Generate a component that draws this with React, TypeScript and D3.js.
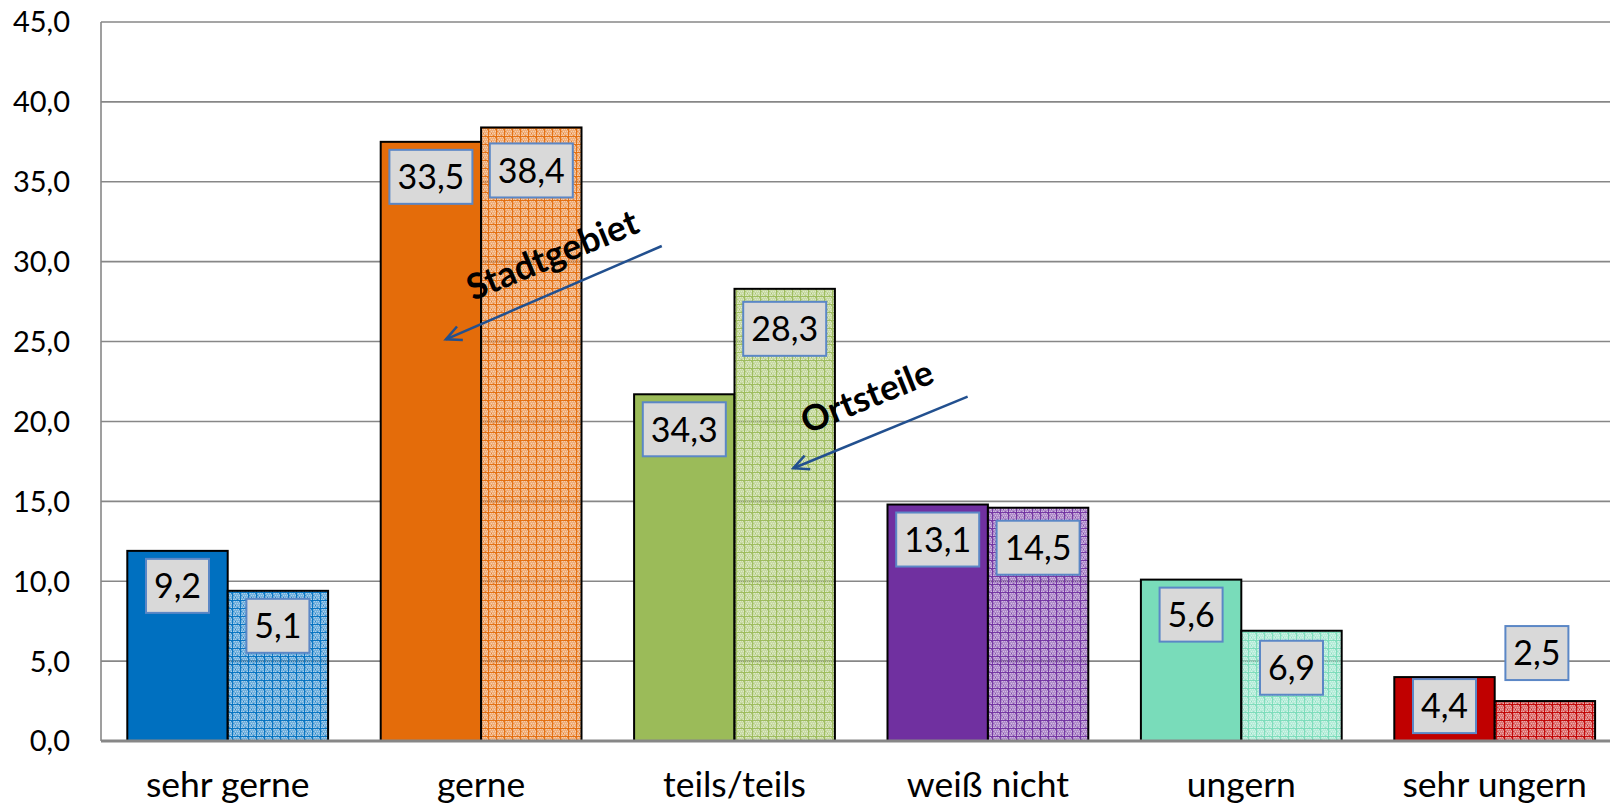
import * as d3 from 'd3';

// bar heights as drawn (the printed labels are a different measure)
const categories = ['sehr gerne', 'gerne', 'teils/teils', 'weiß nicht', 'ungern', 'sehr ungern'];
const stadtgebiet = [11.9, 37.5, 21.7, 14.8, 10.1, 4.0];
const ortsteile = [9.4, 38.4, 28.3, 14.6, 6.9, 2.5];
const stadtLabels = ['9,2', '33,5', '34,3', '13,1', '5,6', '4,4'];
const ortLabels = ['5,1', '38,4', '28,3', '14,5', '6,9', '2,5'];
const colors = ['#0070c0', '#e46c0a', '#9bbb59', '#7030a0', '#79dcba', '#c00000'];
const yTicks = [0, 5, 10, 15, 20, 25, 30, 35, 40, 45];

// label box nudges (px), mostly Excel's inside-end default
const stadtDy = [8, 8, 8, 8, 8, 2];
const ortDy = [8, 16, 13, 13, 10, -75];
const ortDx = [0, 0, 0, 0, 0, -8];

// annotations in category units / value units
const notes = [
  { text: 'Stadtgebiet', at: [1.8, 29.7], angle: -22.4, from: [2.213, 30.98], to: [1.361, 25.14] },
  { text: 'Ortsteile', at: [3.041, 20.84], angle: -22.1, from: [3.42, 21.55], to: [2.732, 17.07] },
];

const W = 1610;
const H = 809;
const left = 101;
const bandW = 253.4;
const barW = 100.4;
const font = 'Lato, "Open Sans", sans-serif';

const fmt = (v: number) => v.toFixed(1).replace('.', ',');

export default function App() {
  const x = d3
    .scaleBand<string>()
    .domain(categories)
    .range([left, left + bandW * categories.length])
    .padding(0);
  const pos = d3.scaleLinear().domain([0, categories.length]).range([left, left + bandW * categories.length]);
  const y = d3.scaleLinear().domain([0, 45]).range([741, 22]);
  const inner = d3
    .scaleBand<number>()
    .domain([0, 1])
    .range([(bandW - 2 * barW) / 2, (bandW + 2 * barW) / 2]);

  const series = [stadtgebiet, ortsteile];
  const labels = [stadtLabels, ortLabels];

  return (
    <svg
      width={W}
      height={H}
      viewBox={`0 0 ${W} ${H}`}
      style={{ position: 'absolute', left: 0, top: 0, background: '#fff' }}
    >
      <defs>
        {colors.map((c, i) => (
          <pattern key={i} id={`pat${i}`} width={8} height={8} patternUnits="userSpaceOnUse">
            <rect width={8} height={8} fill={c} fillOpacity={0.55} />
            {d3.range(0, 8, 2).map((px) =>
              d3.range(0, 8, 2).map((py) => (
                <rect
                  key={`${px}-${py}`}
                  x={px + ((py / 2) % 2)}
                  y={py + 1}
                  width={1}
                  height={1}
                  fill="#fff"
                  fillOpacity={0.4}
                />
              )),
            )}
            {d3.range(1, 8, 2).map((p) => (
              <rect key={`d${p}`} x={p} y={(p + 2) % 8} width={1} height={1} fill={c} fillOpacity={0.7} />
            ))}
            <rect x={0} y={0} width={1} height={8} fill={c} fillOpacity={0.9} />
            <rect x={0} y={0} width={8} height={1} fill={c} fillOpacity={0.9} />
          </pattern>
        ))}
      </defs>

      {/* gridlines */}
      {yTicks.slice(1).map((t) => (
        <line key={t} x1={left} x2={W} y1={y(t)} y2={y(t)} stroke="#878787" strokeWidth={1.6} />
      ))}
      <line x1={left} x2={left} y1={y(45)} y2={y(0)} stroke="#878787" strokeWidth={1.6} />

      {/* bars */}
      {series.map((vals, s) =>
        vals.map((v, i) => (
          <rect
            key={`${s}-${i}`}
            x={(x(categories[i]) ?? 0) + (inner(s) ?? 0)}
            y={y(v)}
            width={barW}
            height={y(0) - y(v)}
            fill={s === 0 ? colors[i] : `url(#pat${i})`}
            stroke="#000"
            strokeWidth={2}
          />
        )),
      )}

      <line x1={left} x2={W} y1={y(0)} y2={y(0)} stroke="#878787" strokeWidth={3} />

      {/* value label boxes */}
      {series.map((vals, s) =>
        vals.map((v, i) => {
          const txt = labels[s][i];
          const bw = txt.length > 3 ? 83 : 63;
          const cx = (x(categories[i]) ?? 0) + (inner(s) ?? 0) + barW / 2 + (s === 1 ? ortDx[i] : 0);
          const top = y(v) + (s === 0 ? stadtDy[i] : ortDy[i]);
          return (
            <g key={`l${s}-${i}`}>
              <rect x={cx - bw / 2} y={top} width={bw} height={54} fill="#d9d9d9" stroke="#5b87c6" strokeWidth={2} />
              <text
                x={cx}
                y={top + 27}
                dy="0.36em"
                textAnchor="middle"
                fontFamily={font}
                fontSize={34}
                fill="#000"
              >
                {txt}
              </text>
            </g>
          );
        }),
      )}

      {/* y axis labels */}
      {yTicks.map((t) => (
        <text key={t} x={70} y={y(t)} dy="0.36em" textAnchor="end" fontFamily={font} fontSize={29} fill="#000">
          {fmt(t)}
        </text>
      ))}

      {/* category labels */}
      {categories.map((c) => (
        <text
          key={c}
          x={(x(c) ?? 0) + bandW / 2}
          y={797}
          textAnchor="middle"
          fontFamily={font}
          fontSize={35.5}
          fill="#000"
        >
          {c}
        </text>
      ))}

      {/* annotations */}
      {notes.map((n) => {
        const x1 = pos(n.from[0]);
        const y1 = y(n.from[1]);
        const x2 = pos(n.to[0]);
        const y2 = y(n.to[1]);
        const a = Math.atan2(y1 - y2, x1 - x2);
        const hl = 17;
        const spread = 0.45;
        return (
          <g key={n.text}>
            <line x1={x1} y1={y1} x2={x2} y2={y2} stroke="#22508f" strokeWidth={2.5} />
            <path
              d={`M${x2 + hl * Math.cos(a + spread)},${y2 + hl * Math.sin(a + spread)} L${x2},${y2} L${
                x2 + hl * Math.cos(a - spread)
              },${y2 + hl * Math.sin(a - spread)}`}
              fill="none"
              stroke="#22508f"
              strokeWidth={2.5}
            />
            <text
              transform={`translate(${pos(n.at[0])},${y(n.at[1])}) rotate(${n.angle})`}
              textAnchor="middle"
              fontFamily={font}
              fontWeight="bold"
              fontSize={35.5}
              fill="#000"
            >
              {n.text}
            </text>
          </g>
        );
      })}
    </svg>
  );
}
